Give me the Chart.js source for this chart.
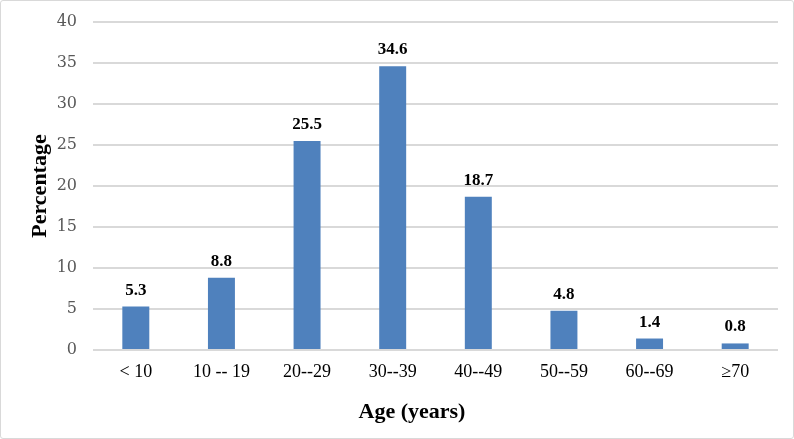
<!DOCTYPE html>
<html><head><meta charset="utf-8">
<script src="https://cdn.jsdelivr.net/npm/chart.js@4/dist/chart.umd.min.js"></script>
<style>
html,body{margin:0;padding:0;background:#fff;}
#wrap{position:absolute;left:0;top:0;width:792px;height:437px;border:1px solid #d9d9d9;border-radius:3px;}
canvas{display:block;}
</style></head><body>
<div id="wrap"><canvas id="c" width="792" height="437"></canvas></div>
<script>
const categories = ["< 10", "10 -- 19", "20--29", "30--39", "40--49", "50--59", "60--69", "\u226570"];
const percentages = [5.3, 8.8, 25.5, 34.6, 18.7, 4.8, 1.4, 0.8];
const yTicks = [0, 5, 10, 15, 20, 25, 30, 35, 40];
const xTitle = "Age (years)";
const yTitle = "Percentage";

const labelPlugin = {
  id: 'barLabels',
  afterDatasetsDraw(chart) {
    const ctx = chart.ctx;
    const meta = chart.getDatasetMeta(0);
    ctx.save();
    ctx.font = 'bold 17px "Liberation Serif"';
    ctx.fillStyle = '#000';
    ctx.textAlign = 'center';
    ctx.textBaseline = 'alphabetic';
    meta.data.forEach((el, i) => {
      ctx.fillText(percentages[i].toFixed(1), el.x, el.y - 12);
    });
    ctx.font = 'bold 22px "Liberation Serif"';
    ctx.fillText(xTitle, 411, 417);
    ctx.restore();
  }
};

new Chart(document.getElementById('c'), {
  type: 'bar',
  data: {
    labels: categories,
    datasets: [{
      data: percentages,
      backgroundColor: '#4f81bd',
      barPercentage: 0.63,
      categoryPercentage: 0.5
    }]
  },
  options: {
    responsive: false,
    animation: false,
    devicePixelRatio: 1,
    layout: { padding: { left: 22, right: 15, top: 21, bottom: 0 } },
    plugins: { legend: { display: false }, tooltip: { enabled: false } },
    scales: {
      x: {
        grid: { display: false, drawTicks: false },
        border: { display: false },
        ticks: { color: '#000', font: { family: 'Liberation Serif', size: 18 }, padding: 11, maxRotation: 0 },
        afterFit(axis) { axis.height = 88; }
      },
      y: {
        min: 0, max: 40,
        afterBuildTicks(axis) { axis.ticks = yTicks.map(v => ({ value: v })); },
        grid: { color: '#d9d9d9', lineWidth: 2, drawTicks: false },
        border: { display: false },
        ticks: { color: '#595959', font: { family: 'DejaVu Serif', size: 16 }, padding: 16 },
        title: { display: true, text: yTitle, color: '#000', font: { family: 'Liberation Serif', size: 22, weight: 'bold' }, padding: { top: 4, bottom: 4 } },
        afterFit(axis) { axis.width = 70; axis.paddingTop = 0; axis.paddingBottom = 0; }
      }
    }
  },
  plugins: [labelPlugin]
});
</script>
</body></html>
